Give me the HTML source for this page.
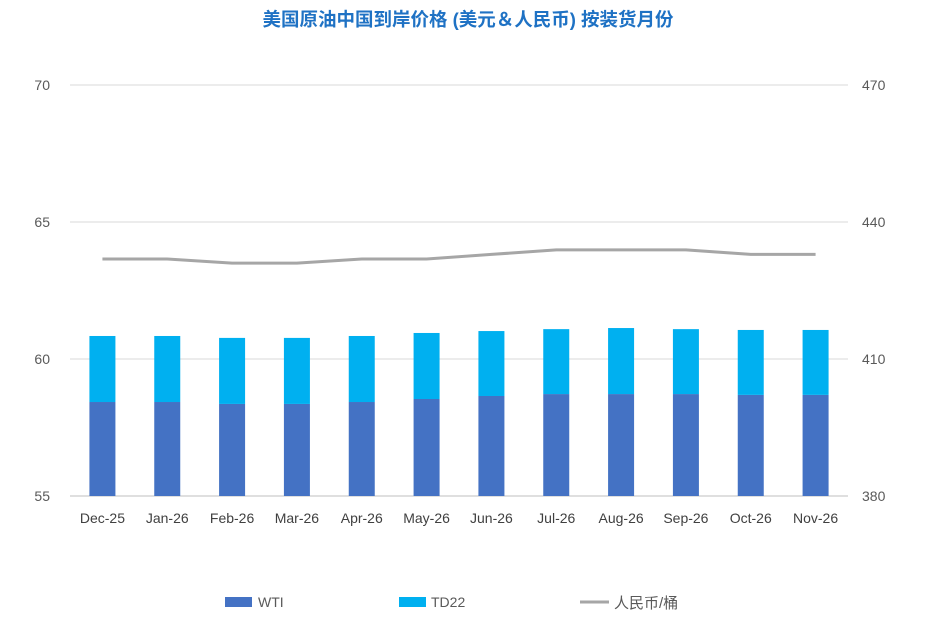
<!DOCTYPE html>
<html><head><meta charset="utf-8"><style>
body{margin:0;background:#fff;width:937px;height:634px;overflow:hidden;font-family:"Liberation Sans","Noto Sans CJK SC",sans-serif}
</style></head><body>
<svg id="chart" width="937" height="634" font-family="Liberation Sans, Noto Sans CJK SC, sans-serif">
<text x="468" y="26" text-anchor="middle" font-size="18.5" font-weight="bold" fill="#1F72C4">美国原油中国到岸价格 (美元＆人民币) 按装货月份</text>
<g id="grid"></g><g id="bars"></g><g id="line"></g><g id="axes"></g>
<g>
<rect x="225" y="597" width="27" height="10" fill="#4472C4"/>
<text x="258" y="607" font-size="14" fill="#595959">WTI</text>
<rect x="399" y="597" width="27" height="10" fill="#00B0F0"/>
<text x="431" y="607" font-size="14" fill="#595959">TD22</text>
<line x1="580" y1="602" x2="609" y2="602" stroke="#A6A6A6" stroke-width="3"/>
<text x="614" y="608" font-size="15" fill="#595959">人民币/桶</text>
</g>
</svg>
<script>
const categories=["Dec-25","Jan-26","Feb-26","Mar-26","Apr-26","May-26","Jun-26","Jul-26","Aug-26","Sep-26","Oct-26","Nov-26"];
const wti=[58.43,58.43,58.36,58.36,58.43,58.54,58.65,58.72,58.72,58.72,58.69,58.69];
const td22=[2.41,2.41,2.41,2.41,2.41,2.41,2.37,2.37,2.41,2.37,2.37,2.37];
const rmb=[431.9,431.9,431.0,431.0,431.9,431.9,432.9,433.9,433.9,433.9,432.9,432.9];
const leftTicks=[55,60,65,70];
const rightTicks=[380,410,440,470];
const NS="http://www.w3.org/2000/svg";
const X0=70,X1=848,Y0=496,Y1=85;
const band=(X1-X0)/categories.length;
const xc=i=>X0+band*(i+0.5);
const yl=v=>Y0-(v-55)/15*(Y0-Y1);
const yr=v=>Y0-(v-380)/90*(Y0-Y1);
function mk(tag,attrs,parent){const e=document.createElementNS(NS,tag);for(const k in attrs)e.setAttribute(k,attrs[k]);document.getElementById(parent).appendChild(e);return e;}
leftTicks.forEach((t,i)=>{
  const g=mk("line",{x1:X0,x2:X1,y1:yl(t),y2:yl(t),stroke:i==0?"#BFBFBF":"#D9D9D9","stroke-width":1},"grid");
  
  
  const tx=mk("text",{x:50,y:yl(t)+5,"text-anchor":"end","font-size":14,fill:"#595959"},"axes");
  tx.textContent=t;
  
  
});
rightTicks.forEach(t=>{
  const tx=mk("text",{x:862,y:yr(t)+5,"font-size":14,fill:"#595959"},"axes");
  tx.textContent=t;
  
  
});
const bw=26;
categories.forEach((c,i)=>{
  const x=xc(i)-bw/2;
  const b1=mk("rect",{x:x,y:yl(wti[i]),width:bw,height:Y0-yl(wti[i]),fill:"#4472C4"},"bars");
  
  
  const top=wti[i]+td22[i];
  const b2=mk("rect",{x:x,y:yl(top),width:bw,height:yl(wti[i])-yl(top),fill:"#00B0F0"},"bars");
  
  
  const tx=mk("text",{x:xc(i),y:523,"text-anchor":"middle","font-size":14,fill:"#404040"},"axes");
  tx.textContent=c;
  
  
});
const pl=mk("polyline",{points:rmb.map((v,i)=>xc(i)+","+yr(v)).join(" "),fill:"none",stroke:"#A6A6A6","stroke-width":3,"stroke-linejoin":"round"},"line");


</script>
</body></html>
